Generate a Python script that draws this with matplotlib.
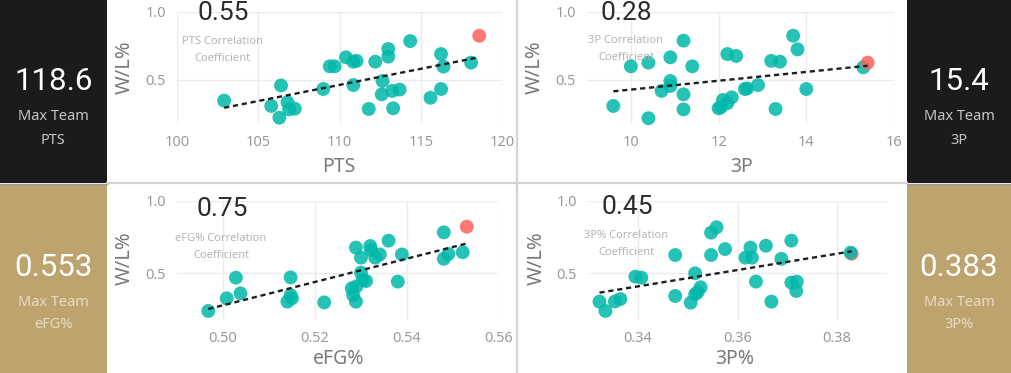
import matplotlib
matplotlib.use('Agg')

import matplotlib.pyplot as plt
from matplotlib.patches import Rectangle
from matplotlib.lines import Line2D
import numpy as np

# figure size in pixels
W, H = 1011, 373

# --- data ------------------------------------------------------------------
pts = [102.9, 105.8, 106.3, 106.4, 106.8, 106.9, 107.25, 109.0, 109.4, 109.7,
       110.4, 110.85, 111.05, 110.85, 111.8, 112.2, 112.65, 112.6, 113.0, 113.0,
       113.25, 113.7, 113.3, 114.35, 115.6, 116.25, 116.25, 116.4, 118.1, 118.6]
pts_wl = [0.349, 0.31, 0.224, 0.46, 0.337, 0.285, 0.29, 0.434, 0.60, 0.60,
          0.666, 0.634, 0.64, 0.463, 0.288, 0.634, 0.493, 0.395, 0.727, 0.671,
          0.42, 0.43, 0.293, 0.785, 0.37, 0.69, 0.434, 0.598, 0.627, 0.824]

fg3 = [9.6, 10.0, 10.4, 10.4, 10.7, 10.9, 10.9, 10.9, 11.2, 11.2,
       11.2, 11.4, 12.0, 12.05, 12.1, 12.2, 12.3, 12.2, 12.4, 12.6,
       12.65, 12.9, 13.2, 13.4, 13.3, 13.7, 13.8, 14.0, 15.3, 15.4]
fg3_wl = [0.31, 0.60, 0.627, 0.22, 0.42, 0.666, 0.493, 0.456, 0.788, 0.395,
          0.285, 0.60, 0.293, 0.30, 0.354, 0.33, 0.373, 0.69, 0.676, 0.434,
          0.438, 0.463, 0.64, 0.634, 0.288, 0.824, 0.724, 0.434, 0.593, 0.627]

efg = [0.4968, 0.5008, 0.5028, 0.5038, 0.514, 0.515, 0.5147, 0.5147, 0.522, 0.528,
       0.5283, 0.5289, 0.5289, 0.529, 0.530, 0.530, 0.5304, 0.5311, 0.532, 0.5322,
       0.5331, 0.5341, 0.536, 0.538, 0.5389, 0.548, 0.548, 0.549, 0.5521, 0.553]
efg_wl = [0.241, 0.328, 0.47, 0.362, 0.305, 0.328, 0.472, 0.35, 0.30, 0.397,
          0.35, 0.305, 0.677, 0.41, 0.608, 0.505, 0.454, 0.447, 0.688, 0.66,
          0.608, 0.63, 0.725, 0.443, 0.63, 0.782, 0.60, 0.633, 0.645, 0.821]

fg3p = [0.3323, 0.3335, 0.3354, 0.3365, 0.3395, 0.3407, 0.3475, 0.3475, 0.3506, 0.3515,
        0.3515, 0.3526, 0.3547, 0.3558, 0.3547, 0.3575, 0.3616, 0.3626, 0.3629, 0.3637,
        0.3657, 0.3668, 0.3688, 0.3708, 0.3708, 0.3719, 0.3718, 0.3520, 0.3827, 0.3829]
fg3p_wl = [0.305, 0.241, 0.306, 0.323, 0.477, 0.47, 0.626, 0.344, 0.298, 0.50,
           0.356, 0.404, 0.78, 0.817, 0.626, 0.667, 0.608, 0.677, 0.608, 0.443,
           0.69, 0.305, 0.60, 0.725, 0.436, 0.443, 0.378, 0.37, 0.642, 0.635]

stat_names = ['PTS', '3P', 'eFG%', '3P%']
corr_values = ['0.55', '0.28', '0.75', '0.45']
card_values = ['118.6', '15.4', '0.553', '0.383']
x_ticks = [[100, 105, 110, 115, 120], [10, 12, 14, 16],
           [0.50, 0.52, 0.54, 0.56], [0.34, 0.36, 0.38]]
x_tick_labels = [['100', '105', '110', '115', '120'], ['10', '12', '14', '16'],
                 ['0.50', '0.52', '0.54', '0.56'], ['0.34', '0.36', '0.38']]
x_limits = [(100, 120), (9, 16), (0.49, 0.56), (0.33, 0.39)]
y_ticks = [0.5, 1.0]
y_tick_labels = ['0.5', '1.0']

TEAL = '#01B8AA'
RED = '#FD625E'
BLACK_CARD = '#1b1b1b'
GOLD_CARD = '#BDA36D'
FRAME = '#d4d4d4'

NUM_FONT = ['Roboto', 'DejaVu Sans']
TXT_FONT = ['Noto Sans', 'DejaVu Sans']


def fx(x):
    return x / W


def fy(y):
    return 1 - y / H


def card(fig, x0, y0, x1, y1, color, value, stat, label_color):
    fig.add_artist(Rectangle((fx(x0), fy(y1)), fx(x1 - x0), (y1 - y0) / H,
                             transform=fig.transFigure, facecolor=color,
                             edgecolor='none', zorder=0))
    cx = (x0 + x1) / 2
    top = y0
    fig.text(fx(cx), fy(top + 82), value, color='white', fontsize=22.5,
             family=NUM_FONT, ha='center', va='center')
    fig.text(fx(cx), fy(top + 117), 'Max Team', color=label_color, fontsize=10.5,
             family=TXT_FONT, ha='center', va='center')
    fig.text(fx(cx), fy(top + 140), stat, color=label_color, fontsize=10.5,
             family=TXT_FONT, ha='center', va='center')


def panel(fig, box, i, xs, ys, red_on_top, corr_pos, lab_pos, ylab_pos, xlab_pos):
    x0, yt, x1, yb = box
    ax = fig.add_axes([fx(x0), fy(yb), fx(x1 - x0), (yb - yt) / H])
    ax.set_facecolor('none')
    xs = np.array(xs)
    ys = np.array(ys)
    top = np.argmax(xs)
    mask = np.arange(len(xs)) != top

    ax.scatter(xs[mask], ys[mask], s=100, color=TEAL, alpha=0.85,
               edgecolors='none', zorder=3, clip_on=False)
    ax.scatter(xs[top], ys[top], s=100, color=RED, alpha=0.85,
               edgecolors='none', zorder=4 if red_on_top else 2, clip_on=False)

    # trend line over all teams
    k, b = np.polyfit(xs, ys, 1)
    lx = np.array([xs.min(), xs.max()])
    ax.plot(lx, k * lx + b, color='#1e1e1e', lw=1.7, ls=(0, (2.2, 1.6)), zorder=5)

    ax.set_xlim(*x_limits[i])
    ax.set_ylim(0.18, 1.0)
    ax.set_xticks(x_ticks[i])
    ax.set_xticklabels(x_tick_labels[i])
    ax.set_yticks(y_ticks)
    ax.set_yticklabels(y_tick_labels)
    ax.tick_params(length=0, labelsize=10.5, labelcolor='#9a9a9a', pad=8)
    for lbl in ax.get_xticklabels() + ax.get_yticklabels():
        lbl.set_family(TXT_FONT)
    ax.grid(True, color='#ececec', lw=1.0, zorder=0)
    ax.set_axisbelow(True)
    for s in ax.spines.values():
        s.set_visible(False)

    fig.text(fx(corr_pos[0]), fy(corr_pos[1]), corr_values[i], color='#2b2b2b',
             fontsize=19, family=['Roboto', 'DejaVu Sans'], ha='center', va='center',
             zorder=1)
    fig.text(fx(lab_pos[0]), fy(lab_pos[1]),
             '{} Correlation\nCoefficient'.format(stat_names[i]),
             color='#b4b4b4', fontsize=8, family=TXT_FONT, ha='center', va='center',
             linespacing=1.7, zorder=1)
    fig.text(fx(ylab_pos[0]), fy(ylab_pos[1]), 'W/L%', color='#7a7a7a', fontsize=14.5,
             family=TXT_FONT, rotation=90, ha='center', va='center')
    fig.text(fx(xlab_pos[0]), fy(xlab_pos[1]), stat_names[i], color='#7a7a7a',
             fontsize=14, family=TXT_FONT, ha='center', va='center')
    return ax


def main():
    fig = plt.figure(figsize=(W / 100, H / 100), dpi=100)
    fig.patch.set_facecolor('white')

    card(fig, 0, 0, 107, 183, BLACK_CARD, card_values[0], stat_names[0], '#c4c4c4')
    card(fig, 907, 0, 1011, 183, BLACK_CARD, card_values[1], stat_names[1], '#c4c4c4')
    card(fig, 0, 185, 107, 373, GOLD_CARD, card_values[2], stat_names[2], '#e6dcc6')
    card(fig, 907, 185, 1011, 373, GOLD_CARD, card_values[3], stat_names[3], '#e6dcc6')

    panel(fig, (177, 11.7, 502, 123.7), 0, pts, pts_wl, True,
          (223, 13), (222, 50), (125, 67), (339, 167))
    panel(fig, (587, 11.7, 894, 123.7), 1, fg3, fg3_wl, True,
          (626, 13), (626, 49), (535, 67), (742, 167))
    panel(fig, (177, 200.7, 499, 319.8), 2, efg, efg_wl, True,
          (222, 209), (221, 247), (125, 258), (339, 359))
    panel(fig, (588, 200.7, 887, 319.8), 3, fg3p, fg3p_wl, False,
          (627, 207), (626, 244), (537, 258), (735, 359))

    # panel frames
    fig.add_artist(Line2D([fx(517), fx(517)], [0, 1], color=FRAME, lw=1.6,
                          transform=fig.transFigure))
    fig.add_artist(Line2D([fx(107), fx(907)], [fy(182.5), fy(182.5)], color=FRAME,
                          lw=1.6, transform=fig.transFigure))
    fig.add_artist(Line2D([0, fx(107)], [fy(184), fy(184)], color='#9a9a9a',
                          lw=1.0, transform=fig.transFigure))
    fig.add_artist(Line2D([fx(907), 1], [fy(184), fy(184)], color='#9a9a9a',
                          lw=1.0, transform=fig.transFigure))

    fig.savefig('out.png', dpi=100, facecolor='white')


if __name__ == '__main__':
    main()
